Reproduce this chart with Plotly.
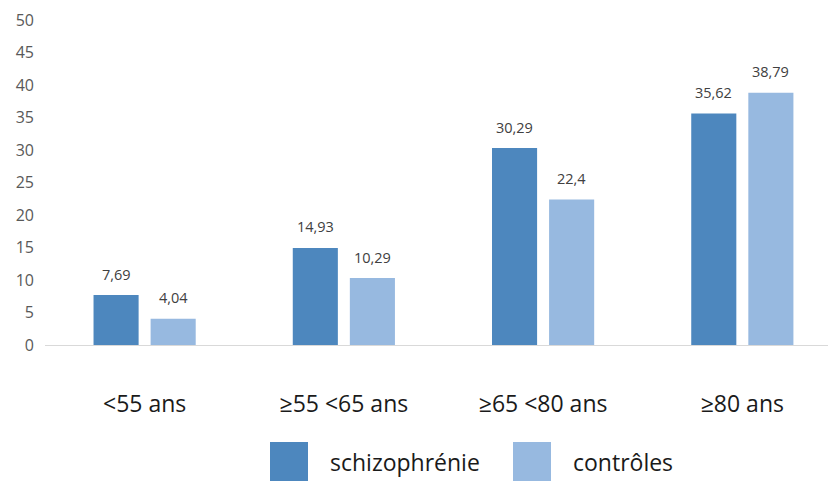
import plotly.graph_objects as go

# Age groups and prevalence values (%)
categories = ["<55 ans", "≥55 <65 ans", "≥65 <80 ans", "≥80 ans"]
schizophrenie = [7.69, 14.93, 30.29, 35.62]
controles = [4.04, 10.29, 22.4, 38.79]
series_names = ["schizophrénie", "contrôles"]
y_ticks = [0, 5, 10, 15, 20, 25, 30, 35, 40, 45, 50]

dark_blue = "#4d87be"
light_blue = "#97b9e0"
font_family = "'Open Sans', sans-serif"


def fmt(v):
    return f"{v:g}".replace(".", ",")


fig = go.Figure()
for name, vals, col in [(series_names[0], schizophrenie, dark_blue),
                        (series_names[1], controles, light_blue)]:
    fig.add_trace(go.Bar(
        x=categories, y=vals, name=name, marker_color=col,
        marker_line_width=0, showlegend=False,
    ))

# value labels above each bar
for i, cat in enumerate(categories):
    for vals, shift in [(schizophrenie, -28.5), (controles, 28.5)]:
        fig.add_annotation(
            x=cat, y=vals[i], text=fmt(vals[i]), showarrow=False,
            xref="x", yref="y", xshift=shift, yshift=21, yanchor="middle",
            font=dict(size=14.5, color="#404040", family=font_family),
        )

# legend drawn as large swatches with labels
legend_items = [(series_names[0], dark_blue, 270), (series_names[1], light_blue, 513)]
for name, col, px in legend_items:
    fig.add_shape(type="rect", xref="paper", yref="paper",
                  x0=(px - 45) / 783, x1=(px + 38 - 45) / 783,
                  y0=-(442 - 345) / 325, y1=-(481 - 345) / 325,
                  fillcolor=col, line_width=0)
    fig.add_annotation(xref="paper", yref="paper",
                       x=(px + 58 - 45) / 783, y=-(462 - 345) / 325,
                       text=name, showarrow=False, xanchor="left", yanchor="middle",
                       font=dict(size=23, color="#1a1a1a", family=font_family))

fig.update_layout(
    width=828, height=481,
    margin=dict(l=45, r=0, t=20, b=136),
    plot_bgcolor="white", paper_bgcolor="white",
    barmode="group", bargap=0.427, bargroupgap=0.21,
    font=dict(family=font_family),
    xaxis=dict(
        range=[-0.5, 3.43], showline=True, linecolor="#d9d9d9", linewidth=1,
        ticks="", showgrid=False, ticklabelstandoff=38,
        tickfont=dict(size=23, color="#1a1a1a", family=font_family),
    ),
    yaxis=dict(
        range=[0, 50], tickvals=y_ticks, showgrid=False,
        zeroline=False, ticks="", ticklabelstandoff=10,
        tickfont=dict(size=16, color="#595959", family=font_family),
    ),
)

fig.write_html("out.html")
